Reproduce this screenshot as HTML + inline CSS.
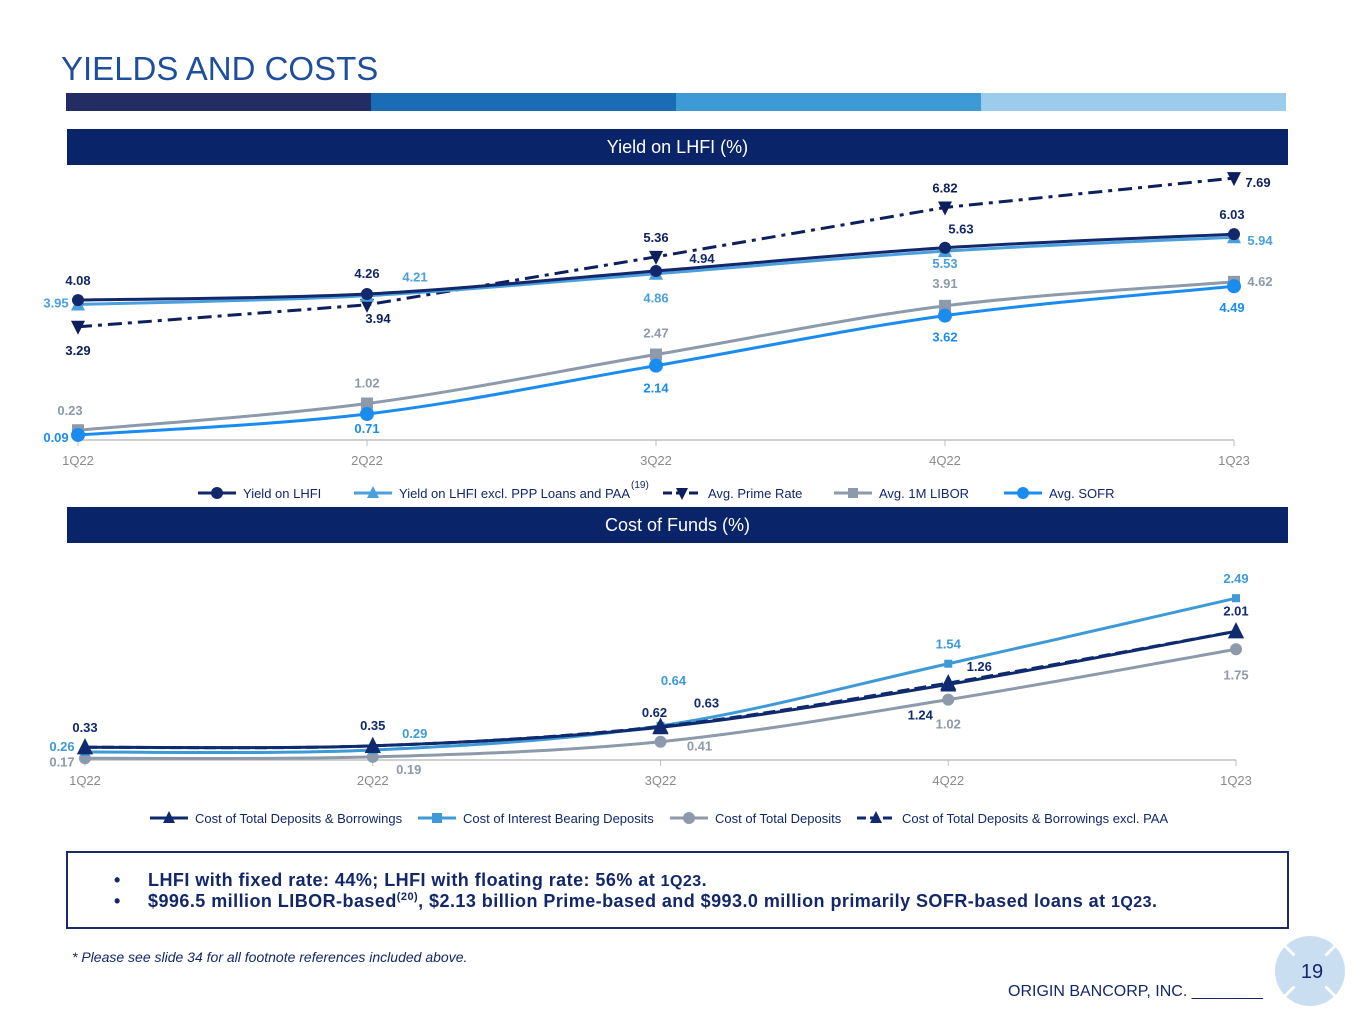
<!DOCTYPE html>
<html><head><meta charset="utf-8"><style>
body{margin:0;width:1365px;height:1024px;background:#fff;position:relative;overflow:hidden;font-family:"Liberation Sans",Arial,sans-serif}
.abs{position:absolute}
.band{position:absolute;left:67px;width:1221px;height:36px;background:#0a2469;color:#fff;font-size:18px;text-align:center;line-height:36px}
</style></head><body>
<div class="abs" style="left:61px;top:50px;font-size:33px;color:#1f4e9c">YIELDS AND COSTS</div>
<div class="abs" style="left:66px;top:93px;width:1220px;height:18px;display:flex">
<div style="flex:1;background:#232d63"></div><div style="flex:1;background:#1a6db5"></div><div style="flex:1;background:#3d9ad6"></div><div style="flex:1;background:#9ccbeb"></div></div>
<div class="band" style="top:129px">Yield on LHFI (%)</div>
<div class="band" style="top:507px">Cost of Funds (%)</div>
<svg id="chart" class="abs" style="left:0;top:0" width="1365" height="850"></svg>
<div class="abs" style="left:66px;top:851px;width:1219px;height:74px;border:2px solid #1a2a6b;font-weight:bold;color:#13276b;font-size:18px;letter-spacing:0.45px">
<div style="position:absolute;left:46px;top:17px">•&nbsp;&nbsp;&nbsp;&nbsp;&nbsp;LHFI with fixed rate: 44%; LHFI with floating rate: 56% at <span style="font-size:16px">1Q23</span>.</div>
<div style="position:absolute;left:46px;top:38px">•&nbsp;&nbsp;&nbsp;&nbsp;&nbsp;$996.5 million LIBOR-based<sup style="font-size:11px">(20)</sup>, $2.13 billion Prime-based and $993.0 million primarily SOFR-based loans at <span style="font-size:16px">1Q23</span>.</div>
</div>
<div class="abs" style="left:72px;top:949px;font-size:14px;font-style:italic;color:#13276b">* Please see slide 34 for all footnote references included above.</div>
<div class="abs" style="left:1008px;top:983px;font-size:16px;color:#13276b">ORIGIN BANCORP, INC. ________</div>
<svg class="abs" style="left:1272px;top:933px" width="76" height="76">
<circle cx="38" cy="38" r="35" fill="#c9dff1"/><line x1="10" y1="10" x2="66" y2="66" stroke="#fff" stroke-width="3"/><line x1="66" y1="10" x2="10" y2="66" stroke="#fff" stroke-width="3"/>
<circle cx="38" cy="38" r="22" fill="#c9dff1"/>
<text x="40" y="45" font-size="20" text-anchor="middle" fill="#13276b" font-family="Liberation Sans">19</text></svg>
<script>
const categories=['1Q22','2Q22','3Q22','4Q22','1Q23'];
const yieldLHFI=[4.08,4.26,4.94,5.63,6.03];
const yieldExclPPP=[3.95,4.21,4.86,5.53,5.94];
const primeRate=[3.29,3.94,5.36,6.82,7.69];
const libor1M=[0.23,1.02,2.47,3.91,4.62];
const sofr=[0.09,0.71,2.14,3.62,4.49];
const costDepBorrow=[0.33,0.35,0.62,1.24,2.01];
const costIntBearing=[0.26,0.29,0.64,1.54,2.49];
const costTotalDep=[0.17,0.19,0.41,1.02,1.75];
const costExclPAA=[0.33,0.35,0.63,1.26,2.01];

const NS='http://www.w3.org/2000/svg';
const svg=document.getElementById('chart');
function mk(t,a,p){const e=document.createElementNS(NS,t);for(const k in a)e.setAttribute(k,a[k]);(p||svg).appendChild(e);return e;}
const topAx={x:i=>78+i*289,y:v=>438-v*33.8,axis:440};
const botAx={x:i=>85+i*287.75,y:v=>770-v*69,axis:760};
function axis(ax,name){
 const l=mk('line',{x1:ax.x(0),x2:ax.x(4),y1:ax.axis,y2:ax.axis,stroke:'#bfbfbf','stroke-width':1.5});
 
 
 categories.forEach((c,i)=>{
  mk('line',{x1:ax.x(i),x2:ax.x(i),y1:ax.axis,y2:ax.axis+6,stroke:'#bfbfbf'});
  const t=mk('text',{x:ax.x(i),y:ax.axis+25,'text-anchor':'middle','font-size':13,fill:'#8a8a8a'});t.textContent=c;
  
  
 });
}
function smooth(pts){
 let d='M'+pts[0][0]+','+pts[0][1];
 for(let i=0;i<pts.length-1;i++){
  const p0=pts[Math.max(0,i-1)],p1=pts[i],p2=pts[i+1],p3=pts[Math.min(pts.length-1,i+2)];
  const c1=[p1[0]+(p2[0]-p0[0])/6,p1[1]+(p2[1]-p0[1])/6],c2=[p2[0]-(p3[0]-p1[0])/6,p2[1]-(p3[1]-p1[1])/6];
  d+=' C'+c1+' '+c2+' '+p2;
 }return d;
}
function marker(shape,x,y,c,g,s){
 s=s||7;
 if(shape==='circle')return mk('circle',{cx:x,cy:y,r:s,fill:c},g);
 if(shape==='square')return mk('rect',{x:x-s+1,y:y-s+1,width:2*s-2,height:2*s-2,fill:c},g);
 if(shape==='tri')return mk('polygon',{points:`${x},${y-s-1} ${x+s},${y+s-1} ${x-s},${y+s-1}`,fill:c},g);
 return mk('polygon',{points:`${x-s},${y-s+1} ${x+s},${y-s+1} ${x},${y+s+1}`,fill:c},g);
}
function series(ax,vals,o){
 const g=mk('g',{});
 
 
 const pts=vals.map((v,i)=>[ax.x(i),ax.y(v)]);
 const d=o.straight?'M'+pts.map(p=>p.join(',')).join(' L'):smooth(pts);
 mk('path',{d,fill:'none',stroke:o.color,'stroke-width':o.w||3,'stroke-dasharray':o.dash||'none'},g);
 pts.forEach((p,i)=>{
  const m=marker(o.shape,p[0],p[1],o.color,g,o.ms);
  
  
  const off=o.off[i];if(!off)return;
  const t=mk('text',{x:p[0]+off[0],y:p[1]+off[1]+5,'text-anchor':'middle','font-size':13,'font-weight':'bold',fill:o.lc||o.color},g);
  t.textContent=vals[i].toFixed(2);
  
  
 });
}
axis(topAx,'yield');axis(botAx,'cost');
series(topAx,libor1M,{name:'libor-series',color:'#8c9aab',shape:'square',off:[[-8,-20],[0,-21],[0,-22],[0,-23],[26,-1]]});
series(topAx,sofr,{name:'sofr-series',color:'#1a8cf0',shape:'circle',off:[[-22,2],[0,14],[0,22],[0,21],[-2,21]]});
series(topAx,primeRate,{name:'prime-series',color:'#0d1f5c',shape:'tridown',straight:true,dash:'14 6 4 6',off:[[0,23],[11,13],[0,-20],[0,-20],[24,4]]});
series(topAx,yieldExclPPP,{name:'yield-excl-series',color:'#4a9fdc',shape:'tri',off:[[-22,-2],[48,-19],[0,24],[0,12],[26,3]]});
series(topAx,yieldLHFI,{name:'yield-lhfi-series',color:'#13276b',shape:'circle',ms:6,off:[[0,-20],[0,-21],[46,-13],[16,-19],[-2,-20]]});
series(botAx,costTotalDep,{name:'total-deposits-series',color:'#8c9aab',shape:'circle',ms:6,off:[[-23,3],[36,12],[39,4],[0,24],[0,25]]});
series(botAx,costIntBearing,{name:'interest-bearing-series',color:'#3d9ad6',shape:'square',ms:5,off:[[-23,-6],[42,-17],[13,-46],[0,-20],[0,-20]]});
series(botAx,costExclPAA,{name:'excl-paa-series',color:'#0f2a6e',shape:'tri',dash:'12 5',ms:8,off:[null,null,[46,-24],[31,-17],null]});
series(botAx,costDepBorrow,{name:'deposits-borrowings-series',color:'#0f2a6e',shape:'tri',ms:8,off:[[0,-20],[0,-21],[-6,-15],[-28,30],[0,-21]]});
function legend(x,y,label,color,shape,dash,name){
 const g=mk('g',{});
 
 
 mk('line',{x1:x,x2:x+38,y1:y,y2:y,stroke:color,'stroke-width':3,'stroke-dasharray':dash||'none'},g);
 marker(shape,x+19,y,color,g,6);
 const t=mk('text',{x:x+45,y:y+5,'font-size':13,fill:'#13276b'},g);t.textContent=label;
 return t;
}
legend(198,493,'Yield on LHFI','#13276b','circle',null,'legend-yield-lhfi');
legend(354,493,'Yield on LHFI excl. PPP Loans and PAA','#4a9fdc','tri',null,'legend-yield-excl');
const sp=mk('text',{x:631,y:488,'font-size':10,fill:'#13276b'});sp.textContent='(19)';
legend(663,493,'Avg. Prime Rate','#0d1f5c','tridown','9 4','legend-prime');
legend(834,493,'Avg. 1M LIBOR','#8c9aab','square',null,'legend-libor');
legend(1004,493,'Avg. SOFR','#1a8cf0','circle',null,'legend-sofr');
legend(150,818,'Cost of Total Deposits & Borrowings','#0f2a6e','tri',null,'legend-deposits-borrowings');
legend(418,818,'Cost of Interest Bearing Deposits','#3d9ad6','square',null,'legend-interest-bearing');
legend(670,818,'Cost of Total Deposits','#8c9aab','circle',null,'legend-total-deposits');
legend(857,818,'Cost of Total Deposits & Borrowings excl. PAA','#0f2a6e','tri','9 4','legend-excl-paa');
</script>
</body></html>
